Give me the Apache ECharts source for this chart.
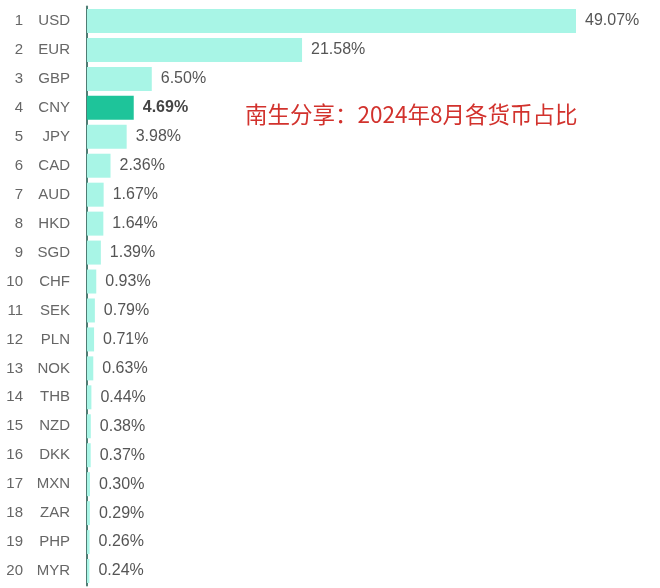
<!DOCTYPE html>
<html><head><meta charset="utf-8">
<script src="https://cdn.jsdelivr.net/npm/echarts@6/dist/echarts.min.js"></script>
<style>html,body{margin:0;padding:0;background:#fff}#c{width:660px;height:588px}</style>
</head><body><div id="c"></div>
<script>
var currencies = ['USD','EUR','GBP','CNY','JPY','CAD','AUD','HKD','SGD','CHF','SEK','PLN','NOK','THB','NZD','DKK','MXN','ZAR','PHP','MYR'];
var shares = [49.07,21.58,6.50,4.69,3.98,2.36,1.67,1.64,1.39,0.93,0.79,0.71,0.63,0.44,0.38,0.37,0.30,0.29,0.26,0.24];
var highlight = 'CNY';
var titleText = '南生分享：2024年8月各货币占比';

var chart = echarts.init(document.getElementById('c'));
var font = 'Liberation Sans, Arial, sans-serif';
chart.setOption({
  animation: false,
  grid: {left: 87, right: 0, top: 6.5, bottom: 2.5},
  xAxis: {type: 'value', min: 0, max: 57.5, show: false},
  yAxis: {
    type: 'category', inverse: true, data: currencies,
    axisLine: {show: true, lineStyle: {color: '#4f7d74', width: 2}},
    axisTick: {show: false},
    axisLabel: {
      margin: 17,
      formatter: function (v, i) { return '{r|' + (i + 1) + '}{c|' + v + '}'; },
      rich: {
        r: {width: 22, align: 'right', fontSize: 15, color: '#666', fontFamily: font},
        c: {width: 47, align: 'right', fontSize: 15, color: '#666', fontFamily: font}
      }
    }
  },
  series: [{
    type: 'bar', barWidth: 24,
    data: shares.map(function (v, i) {
      var hi = currencies[i] === highlight;
      return {
        value: v,
        itemStyle: {color: hi ? '#1ec49a' : '#a8f5e6'},
        label: hi ? {fontWeight: 'bold', color: '#444'} : {}
      };
    }),
    label: {
      show: true, position: 'right', distance: 9,
      fontSize: 16, color: '#555', fontFamily: font,
      formatter: function (p) { return p.value.toFixed(2) + '%'; }
    }
  }],
  graphic: [{
    type: 'text', left: 245, top: 103,
    style: {text: titleText, fontSize: 22.5, fill: '#d2322d', fontFamily: 'Noto Sans CJK SC'}
  }]
});
</script></body></html>
